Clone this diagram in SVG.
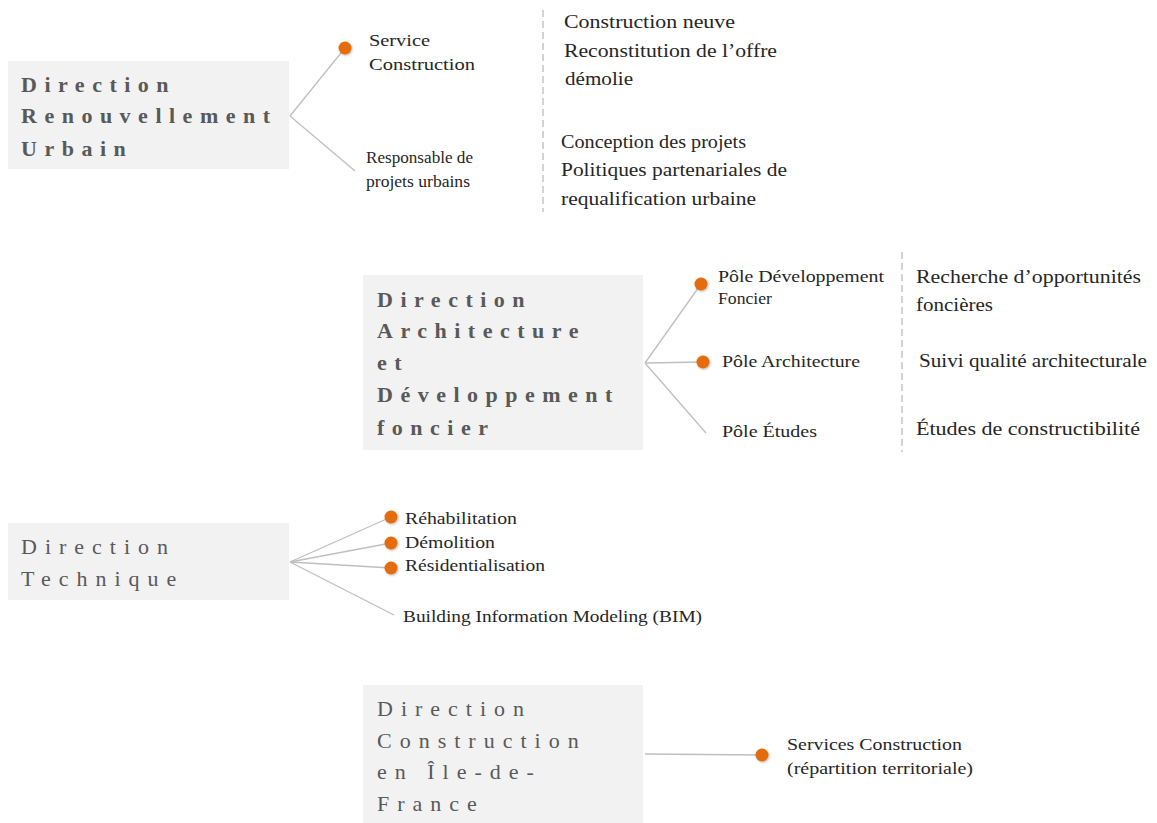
<svg xmlns="http://www.w3.org/2000/svg" width="1157" height="823" viewBox="0 0 1157 823">
<style>
.box{fill:#F2F2F2;}
text{font-family:"Liberation Serif","Times New Roman","DejaVu Serif","Noto Serif",serif;}
.tb{font-size:22px;font-weight:bold;fill:#595959;letter-spacing:7.5px;}
.tr{font-size:22px;fill:#595959;letter-spacing:8px;}
.s{font-size:16px;fill:#262626;}
.d{font-size:19px;fill:#262626;}
.ln{stroke:#BFBFBF;stroke-width:1.3;fill:none;}
.dash{stroke:#A6A6A6;stroke-width:1;stroke-dasharray:7 4;fill:none;}
.dot{fill:#E46C0A;filter:url(#sh);}
</style>
<defs>
<filter id="sh" x="-50%" y="-50%" width="200%" height="200%">
<feDropShadow dx="0.8" dy="1" stdDeviation="0.8" flood-color="#000" flood-opacity="0.3"/>
</filter>
</defs>
<rect width="1157" height="823" fill="#FFFFFF"/>

<g id="connectors">
<line class="ln" x1="290" y1="116" x2="345" y2="48"/>
<line class="ln" x1="290" y1="116" x2="355" y2="171"/>
<line class="ln" x1="645" y1="363" x2="701" y2="284"/>
<line class="ln" x1="645" y1="363" x2="703" y2="362"/>
<line class="ln" x1="645" y1="363" x2="706" y2="433"/>
<line class="ln" x1="290" y1="562" x2="391" y2="517"/>
<line class="ln" x1="290" y1="562" x2="391" y2="543"/>
<line class="ln" x1="290" y1="562" x2="391" y2="568"/>
<line class="ln" x1="290" y1="562" x2="394" y2="615"/>
<line class="ln" x1="645" y1="754" x2="762" y2="755"/>
<line class="dash" x1="543" y1="10" x2="543" y2="212"/>
<line class="dash" x1="902" y1="252" x2="902" y2="452"/>
</g>

<g id="dru">
<rect class="box" x="8" y="61" width="281" height="108"/>
<text class="tb" x="21" y="92">Direction</text>
<text class="tb" x="21" y="123">Renouvellement</text>
<text class="tb" x="21" y="156">Urbain</text>
</g>

<g id="service-construction">
<circle class="dot" cx="345" cy="48" r="6.5"/>
<text class="s" x="369" y="46" textLength="61" lengthAdjust="spacingAndGlyphs">Service</text>
<text class="s" x="369" y="70" textLength="106" lengthAdjust="spacingAndGlyphs">Construction</text>
</g>

<g id="responsable">
<text class="s" x="366" y="163" textLength="107" lengthAdjust="spacingAndGlyphs">Responsable de</text>
<text class="s" x="366" y="187" textLength="104" lengthAdjust="spacingAndGlyphs">projets urbains</text>
</g>

<g id="desc-service">
<text class="d" x="564" y="28" textLength="171" lengthAdjust="spacingAndGlyphs">Construction neuve</text>
<text class="d" x="564" y="57" textLength="213" lengthAdjust="spacingAndGlyphs">Reconstitution de l’offre</text>
<text class="d" x="565" y="85" textLength="68" lengthAdjust="spacingAndGlyphs">démolie</text>
</g>

<g id="desc-responsable">
<text class="d" x="561" y="148" textLength="185" lengthAdjust="spacingAndGlyphs">Conception des projets</text>
<text class="d" x="561" y="176" textLength="226" lengthAdjust="spacingAndGlyphs">Politiques partenariales de</text>
<text class="d" x="561" y="205" textLength="195" lengthAdjust="spacingAndGlyphs">requalification urbaine</text>
</g>

<g id="dadf">
<rect class="box" x="363" y="275" width="280" height="175"/>
<text class="tb" x="377" y="307">Direction</text>
<text class="tb" x="377" y="338">Architecture</text>
<text class="tb" x="377" y="370">et</text>
<text class="tb" x="377" y="402">Développement</text>
<text class="tb" x="377" y="435">foncier</text>
</g>

<g id="pole-dev">
<circle class="dot" cx="701" cy="284" r="6.5"/>
<text class="s" x="718" y="282" textLength="166" lengthAdjust="spacingAndGlyphs">Pôle Développement</text>
<text class="s" x="718" y="304" textLength="54" lengthAdjust="spacingAndGlyphs">Foncier</text>
</g>

<g id="pole-archi">
<circle class="dot" cx="703" cy="362" r="6.5"/>
<text class="s" x="722" y="367" textLength="138" lengthAdjust="spacingAndGlyphs">Pôle Architecture</text>
</g>

<g id="pole-etudes">
<text class="s" x="722" y="437" textLength="95" lengthAdjust="spacingAndGlyphs">Pôle Études</text>
</g>

<g id="desc-dev">
<text class="d" x="916" y="283" textLength="225" lengthAdjust="spacingAndGlyphs">Recherche d’opportunités</text>
<text class="d" x="916" y="311" textLength="77" lengthAdjust="spacingAndGlyphs">foncières</text>
</g>
<g id="desc-archi">
<text class="d" x="919" y="367" textLength="228" lengthAdjust="spacingAndGlyphs">Suivi qualité architecturale</text>
</g>
<g id="desc-etudes">
<text class="d" x="916" y="435" textLength="224" lengthAdjust="spacingAndGlyphs">Études de constructibilité</text>
</g>

<g id="dt">
<rect class="box" x="8" y="523" width="281" height="77"/>
<text class="tr" x="21" y="554">Direction</text>
<text class="tr" x="21" y="586">Technique</text>
</g>

<g id="rehab">
<circle class="dot" cx="391" cy="517" r="6.5"/>
<text class="s" x="405" y="524" textLength="112" lengthAdjust="spacingAndGlyphs">Réhabilitation</text>
</g>
<g id="demol">
<circle class="dot" cx="391" cy="543" r="6.5"/>
<text class="s" x="405" y="548" textLength="90" lengthAdjust="spacingAndGlyphs">Démolition</text>
</g>
<g id="resid">
<circle class="dot" cx="391" cy="568" r="6.5"/>
<text class="s" x="405" y="571" textLength="140" lengthAdjust="spacingAndGlyphs">Résidentialisation</text>
</g>
<g id="bim">
<text class="s" x="403" y="622" textLength="299" lengthAdjust="spacingAndGlyphs">Building Information  Modeling (BIM)</text>
</g>

<g id="dcidf">
<rect class="box" x="363" y="685" width="280" height="138"/>
<text class="tr" x="377" y="716">Direction</text>
<text class="tr" x="377" y="748">Construction</text>
<text class="tr" x="377" y="779">en Île-de-</text>
<text class="tr" x="377" y="811">France</text>
</g>

<g id="services-construction">
<circle class="dot" cx="762" cy="755" r="6.5"/>
<text class="s" x="787" y="750" textLength="175" lengthAdjust="spacingAndGlyphs">Services Construction</text>
<text class="s" x="787" y="774" textLength="186" lengthAdjust="spacingAndGlyphs">(répartition territoriale)</text>
</g>
</svg>
